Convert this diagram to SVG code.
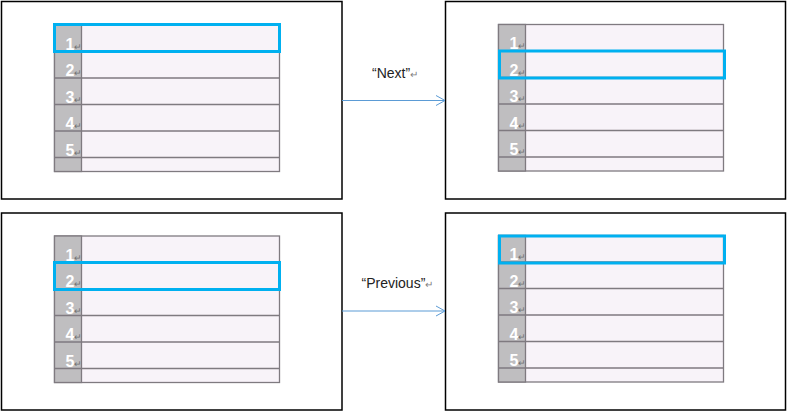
<svg xmlns="http://www.w3.org/2000/svg" width="788" height="412" viewBox="0 0 788 412">
<style>
.panel{fill:#fff;stroke:#000;stroke-width:1.5}
.row{fill:#F8F3F9;stroke:#7F7A80;stroke-width:1.3}
.gut{fill:#BFBEC0;stroke:#7F7A80;stroke-width:1.3}
.hl{fill:none;stroke:#00B0F0;stroke-width:3}
.num{font-family:"Liberation Sans",Arial,sans-serif;font-size:16px;font-weight:bold;fill:#fff}
.ret{font-size:9px;font-weight:normal;fill:#707070}
.lbl{font-family:"Liberation Sans",Arial,sans-serif;font-size:14px;fill:#222}
.lret{font-size:10px;fill:#808080}
.conn{stroke:#5B9BD5;stroke-width:1;fill:none}
</style>
<defs>
<marker id="arr" markerWidth="12" markerHeight="12" refX="10" refY="6" orient="auto" markerUnits="userSpaceOnUse">
<path d="M1,1 L10,6 L1,11" fill="none" stroke="#5B9BD5" stroke-width="1"/>
</marker>
<g id="table">
<rect class="row" x="0" y="0" width="225" height="146.5"/>
<rect class="gut" x="0" y="0" width="27" height="146.5"/>
<path d="M0,26.5H225M0,53H225M0,79.5H225M0,106H225M0,132.5H225" stroke="#7F7A80" stroke-width="1.3" fill="none"/>
<text class="num" x="11" y="24.5">1<tspan class="ret">↵</tspan></text>
<text class="num" x="11" y="51">2<tspan class="ret">↵</tspan></text>
<text class="num" x="11" y="77.5">3<tspan class="ret">↵</tspan></text>
<text class="num" x="11" y="104">4<tspan class="ret">↵</tspan></text>
<text class="num" x="11" y="130.5">5<tspan class="ret">↵</tspan></text>
</g>
</defs>
<g id="panel1">
<rect class="panel" x="1.5" y="1.5" width="340.5" height="197.5"/>
<use href="#table" x="54.5" y="25"/>
<rect class="hl" x="54.5" y="24.5" width="225" height="27"/>
</g>
<g id="panel2">
<rect class="panel" x="445.5" y="1.5" width="340" height="197.5"/>
<use href="#table" x="498.5" y="24.5"/>
<rect class="hl" x="499.5" y="51" width="225" height="27"/>
</g>
<g id="panel3">
<rect class="panel" x="1.5" y="213" width="340.5" height="197"/>
<use href="#table" x="54.5" y="236"/>
<rect class="hl" x="54.5" y="262.5" width="225" height="27"/>
</g>
<g id="panel4">
<rect class="panel" x="445.5" y="213" width="340" height="197"/>
<use href="#table" x="498.5" y="235.5"/>
<rect class="hl" x="499.5" y="236" width="225" height="27"/>
</g>
<g id="connectors">
<line class="conn" x1="342" y1="100.5" x2="445" y2="100.5" marker-end="url(#arr)"/>
<line class="conn" x1="342" y1="311" x2="445" y2="311" marker-end="url(#arr)"/>
<text class="lbl" x="372" y="78">“Next”<tspan class="lret">↵</tspan></text>
<text class="lbl" x="361.5" y="288" font-size="13.5">“Previous”<tspan class="lret">↵</tspan></text>
</g>
</svg>
